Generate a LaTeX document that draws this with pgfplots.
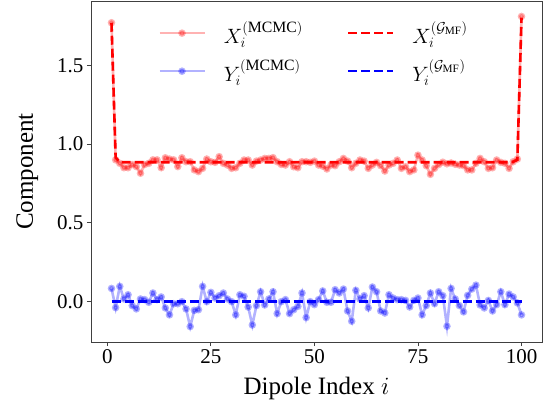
\documentclass[border=0pt]{standalone}
\usepackage{fontspec}
\setmainfont{Liberation Serif}
\usepackage{pgfplots}
\usepackage{pgfplotstable}
\pgfplotsset{compat=1.18}

\pgfplotstableread{
i X Y
1 1.77 0.084
2 0.900 -0.038
3 0.878 0.097
4 0.850 0.017
5 0.850 0.044
6 0.870 -0.025
7 0.857 -0.046
8 0.815 0.017
9 0.870 0.013
10 0.878 -0.004
11 0.900 0.055
12 0.900 0.013
13 0.850 0.030
14 0.913 -0.040
15 0.905 -0.084
16 0.900 -0.013
17 0.857 -0.013
18 0.913 0.000
19 0.888 -0.046
20 0.888 -0.158
21 0.836 -0.055
22 0.825 -0.051
23 0.846 0.097
24 0.905 0.000
25 0.888 0.059
26 0.884 0.023
27 0.920 0.038
28 0.878 0.055
29 0.867 0.017
30 0.846 0.000
31 0.850 -0.084
32 0.878 0.044
33 0.899 0.034
34 0.899 -0.034
35 0.867 -0.148
36 0.892 -0.025
37 0.899 0.063
38 0.909 -0.021
39 0.909 0.017
40 0.914 0.063
41 0.888 -0.076
42 0.871 0.000
43 0.867 0.013
44 0.888 -0.076
45 0.856 -0.051
46 0.850 -0.030
47 0.888 0.055
48 0.888 -0.101
49 0.884 0.000
50 0.892 -0.019
51 0.867 0.013
52 0.860 0.068
53 0.842 -0.004
54 0.867 -0.004
55 0.863 0.076
56 0.888 0.055
57 0.909 0.080
58 0.892 -0.059
59 0.850 -0.124
60 0.878 0.072
61 0.899 0.017
62 0.892 0.038
63 0.846 -0.040
64 0.867 0.093
65 0.884 0.063
66 0.863 -0.059
67 0.829 -0.072
68 0.867 0.044
69 0.878 0.023
70 0.899 0.013
71 0.846 0.013
72 0.856 0.008
73 0.825 -0.034
74 0.836 0.008
75 0.930 0.023
76 0.899 -0.084
77 0.863 -0.025
78 0.808 0.055
79 0.846 -0.013
80 0.870 0.063
81 0.885 0.038
82 0.875 -0.156
83 0.880 0.084
84 0.872 0.017
85 0.867 -0.025
86 0.863 -0.065
87 0.836 0.040
88 0.836 0.080
89 0.878 0.105
90 0.909 -0.021
91 0.888 -0.040
92 0.846 0.008
93 0.850 -0.059
94 0.899 -0.019
95 0.884 0.063
96 0.878 -0.019
97 0.846 0.048
98 0.888 0.030
99 0.905 -0.008
100 1.81 -0.084
}\mcmc

\pgfplotstableread{
i X Y
1 1.77 0
2 0.915 0
3 0.885 0
97 0.885 0
98 0.888 0
99 0.900 0
100 1.80 0
}\mf

\begin{document}
\begin{tikzpicture}
\begin{axis}[
  scale only axis,
  width=451pt, height=341pt,
  xmin=-3.95, xmax=104.95,
  ymin=-0.256, ymax=1.908,
  xtick={0,25,50,75,100},
  ytick={0,0.5,1,1.5},
  yticklabel style={/pgf/number format/.cd, fixed, fixed zerofill, precision=1},
  /pgf/number format/assume math mode=true,
  tick align=outside,
  xtick pos=bottom, ytick pos=left,
  major tick length=4pt,
  tick style={black!75, line width=0.8pt},
  axis line style={black!75, line width=0.8pt},
  ticklabel style={font=\fontsize{21}{25}\selectfont},
  label style={font=\fontsize{25}{30}\selectfont},
  xlabel={Dipole Index $i$},
  ylabel={Component},
  xlabel style={at={(axis description cs:0.5,-0.1554)}, anchor=base},
  ylabel style={at={(axis description cs:-0.1286,0.5)}, anchor=base},
  legend columns=2,
  transpose legend,
  legend cell align=left,
  legend image code/.code={\draw[mark repeat=2,mark phase=2,#1] plot coordinates {(0pt,0pt) (22.5pt,0pt) (45pt,0pt)};},
  legend style={draw=none, fill=none, inner sep=0pt,
    at={(axis description cs:0.1486,0.946)}, anchor=north west,
    font=\fontsize{22.5}{27}\selectfont,
    column sep=16pt, row sep=11pt,
    /tikz/every even column/.append style={column sep=42pt}},
]
\addplot[red, opacity=0.3, line width=2.6pt, mark=*, mark size=2.4pt] table[x=i,y=X] {\mcmc};
\addlegendentry{$X_i^{(\mathrm{MCMC})}$}
\addplot[blue, opacity=0.3, line width=2.6pt, mark=*, mark size=2.4pt] table[x=i,y=Y] {\mcmc};
\addlegendentry{$Y_i^{(\mathrm{MCMC})}$}
\addplot[red, line width=2.6pt, dash pattern=on 9pt off 4pt] table[x=i,y=X] {\mf};
\addlegendentry{$X_i^{(\mathcal{G}_{\mathrm{MF}})}$}
\addplot[blue, line width=2.6pt, dash pattern=on 9pt off 4pt] table[x=i,y=Y] {\mf};
\addlegendentry{$Y_i^{(\mathcal{G}_{\mathrm{MF}})}$}
\end{axis}
\pgfresetboundingbox
\path[use as bounding box] ([shift={(-91pt,-65pt)}]current axis.south west) rectangle ([shift={(8pt,1pt)}]current axis.north east);
\end{tikzpicture}
\end{document}
